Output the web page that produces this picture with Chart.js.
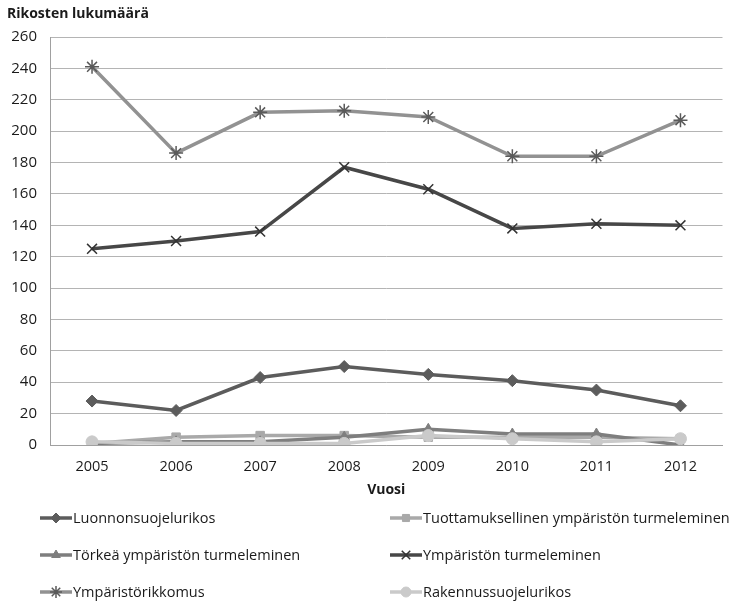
<!DOCTYPE html>
<html>
<head>
<meta charset="utf-8">
<script src="https://cdn.jsdelivr.net/npm/chart.js@4/dist/chart.umd.min.js"></script>
<style>
  html, body { margin: 0; padding: 0; background: #fff; }
  #wrap { width: 731px; height: 604px; position: relative; }
</style>
</head>
<body>
<div id="wrap"><canvas id="c" width="731" height="604"></canvas></div>
<script>
// Years on the category axis
const years = ['2005', '2006', '2007', '2008', '2009', '2010', '2011', '2012'];

// Offence counts per year
const luonnonsuojelurikos = [28, 22, 43, 50, 45, 41, 35, 25];
const tuottamuksellinen = [1, 5, 6, 6, 5, 5, 5, 4];
const torkea = [1, 2, 2, 5, 10, 7, 7, 0];
const ymparistonTurmeleminen = [125, 130, 136, 177, 163, 138, 141, 140];
const ymparistorikkomus = [241, 186, 212, 213, 209, 184, 184, 207];
const rakennussuojelurikos = [2, 1, 1, 1, 6, 4, 2, 4];

// Value axis ticks
const yTicks = [0, 20, 40, 60, 80, 100, 120, 140, 160, 180, 200, 220, 240, 260];

const FONT = '"Open Sans", "Liberation Sans", sans-serif';
const TEXT = '#1a1a1a';

function series(label, data, color, markerColor, style, radius, order) {
  return {
    label, data,
    borderColor: color,
    backgroundColor: markerColor,
    pointBackgroundColor: markerColor,
    pointBorderColor: markerColor,
    pointStyle: style,
    pointRadius: radius,
    pointHoverRadius: radius,
    pointBorderWidth: style === 'crossRot' || style === 'star' ? 1.5 : 1,
    borderWidth: 3.5,
    tension: 0,
    fill: false,
    order
  };
}

const datasets = [
  series('Luonnonsuojelurikos', luonnonsuojelurikos, '#5c5c5c', '#5c5c5c', 'rectRot', 6, 6),
  series('Tuottamuksellinen ympäristön turmeleminen', tuottamuksellinen, '#a9a9a9', '#a9a9a9', 'rect', 6, 5),
  series('Törkeä ympäristön turmeleminen', torkea, '#7e7e7e', '#7e7e7e', 'triangle', 6, 4),
  series('Ympäristön turmeleminen', ymparistonTurmeleminen, '#474747', '#333333', 'crossRot', 7, 3),
  series('Ympäristörikkomus', ymparistorikkomus, '#929292', '#5a5a5a', 'star', 7, 2),
  series('Rakennussuojelurikos', rakennussuojelurikos, '#cacaca', '#cacaca', 'circle', 6, 1)
];

// Titles and a two-column legend drawn beneath the plot
const decorations = {
  id: 'decorations',
  afterDraw(chart) {
    const ctx = chart.ctx;
    const area = chart.chartArea;
    ctx.save();
    ctx.fillStyle = TEXT;
    ctx.font = 'bold 14px ' + FONT;
    ctx.textBaseline = 'middle';
    ctx.textAlign = 'left';
    ctx.fillText('Rikosten lukumäärä', 7, 14);
    ctx.textAlign = 'center';
    ctx.fillText('Vuosi', (area.left + area.right) / 2, 490);

    const cols = [40, 390];
    const rows = [518, 555, 592];
    ctx.font = '14.5px ' + FONT;
    ctx.textAlign = 'left';
    chart.data.datasets.forEach((ds, i) => {
      const x = cols[i % 2];
      const y = rows[Math.floor(i / 2)];
      ctx.strokeStyle = ds.borderColor;
      ctx.lineWidth = 3.5;
      ctx.beginPath();
      ctx.moveTo(x, y);
      ctx.lineTo(x + 32, y);
      ctx.stroke();
      ctx.fillStyle = ds.pointBackgroundColor;
      ctx.strokeStyle = ds.pointBorderColor;
      ctx.lineWidth = ds.pointBorderWidth;
      Chart.helpers.drawPoint(ctx, { pointStyle: ds.pointStyle, rotation: 0, radius: ds.pointRadius - 1, borderWidth: ds.pointBorderWidth }, x + 16, y);
      ctx.fillStyle = TEXT;
      ctx.fillText(ds.label, x + 33, y + 1);
    });
    ctx.restore();
  }
};

new Chart(document.getElementById('c'), {
  type: 'line',
  data: { labels: years, datasets },
  plugins: [decorations],
  options: {
    responsive: false,
    animation: false,
    events: [],
    layout: { padding: { top: 37, right: 3, left: 0, bottom: 0 } },
    plugins: {
      legend: { display: false },
      tooltip: { enabled: false },
      title: { display: false }
    },
    scales: {
      x: {
        offset: true,
        grid: { display: false, drawTicks: false },
        border: { display: true, color: '#a0a0a0', width: 1 },
        ticks: { color: TEXT, font: { family: FONT, size: 14.5 }, padding: 13, maxRotation: 0 },
        afterFit(scale) { scale.height = 159; }
      },
      y: {
        min: 0,
        max: 260,
        afterBuildTicks(scale) { scale.ticks = yTicks.map(v => ({ value: v })); },
        grid: { color: '#b4b4b4', lineWidth: 1, drawTicks: false },
        border: { display: true, color: '#a0a0a0', width: 1 },
        ticks: { color: TEXT, font: { family: FONT, size: 15 }, padding: 13 },
        afterFit(scale) { scale.width = 50; }
      }
    }
  }
});
</script>
</body>
</html>
